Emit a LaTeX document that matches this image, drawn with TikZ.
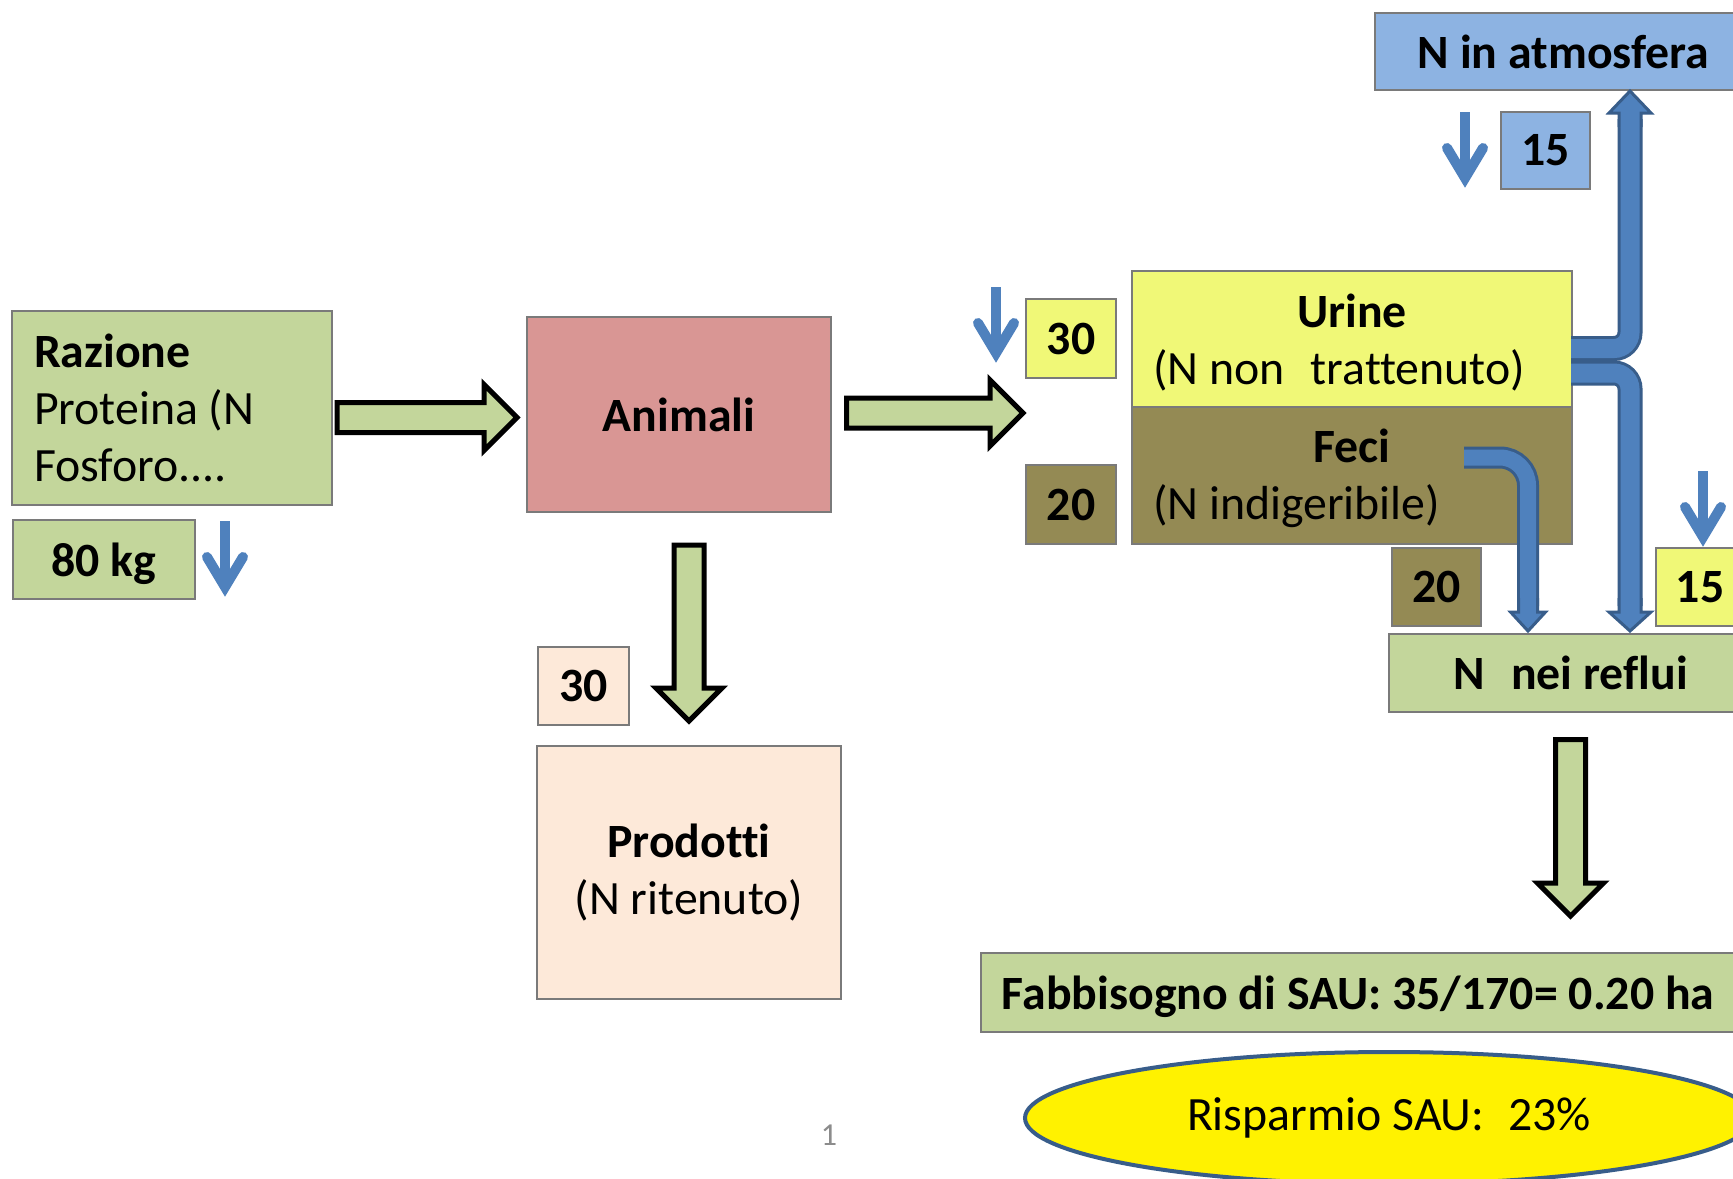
\documentclass[tikz,border=0pt]{standalone}
\usepackage{fontspec}
\setmainfont{Carlito}[Ligatures=NoCommon]
\usetikzlibrary{calc,shapes.geometric}
\definecolor{cGreen}{HTML}{C3D69B}
\definecolor{cPink}{HTML}{D99694}
\definecolor{cPeach}{HTML}{FDE9D9}
\definecolor{cYel}{HTML}{F0F877}
\definecolor{cOlive}{HTML}{948A54}
\definecolor{cSky}{HTML}{8DB3E2}
\definecolor{cBlue}{HTML}{4F81BD}
\definecolor{cBlueDark}{HTML}{385D8A}
\definecolor{cBorder}{HTML}{7A7A7A}
\definecolor{cPage}{HTML}{8C8C8C}
\newcommand\bluehead[5]{\filldraw[shift={#1}, rotate=#2, fill=cBlue, draw=cBlueDark, line width=1.5pt, line join=miter] (-#3,-14) -- (-#3,0) -- (-#4,0) -- (0,#5) -- (#4,0) -- (#3,0) -- (#3,-14);}
\newcommand\fatH[2]{\draw[fatarrow] let \p1=(#1), \p2=(#2) in
 (\x1,\y1+7.5pt) -- (\x2-16.5pt,\y1+7.5pt) -- (\x2-16.5pt,\y1+16.5pt) -- (\x2,\y1) -- (\x2-16.5pt,\y1-16.5pt) -- (\x2-16.5pt,\y1-7.5pt) -- (\x1,\y1-7.5pt) -- cycle;}
\newcommand\fatV[2]{\draw[fatarrow] let \p1=(#1), \p2=(#2) in
 (\x1+7.5pt,\y1) -- (\x1+7.5pt,\y2+16.5pt) -- (\x1+16.5pt,\y2+16.5pt) -- (\x1,\y2) -- (\x1-16.5pt,\y2+16.5pt) -- (\x1-7.5pt,\y2+16.5pt) -- (\x1-7.5pt,\y1) -- cycle;}
\newcommand\thinarrow[1]{%
 \draw[cBlue, line width=5pt] #1 -- ++(0,60);
 \draw[cBlue, line width=5pt, line cap=round, line join=miter] #1 ++(-18,36) -- ++(18,30) -- ++(18,-30);}
\begin{document}
\begin{tikzpicture}[x=0.5pt,y=-0.5pt,
  font=\fontsize{23.9pt}{28.5pt}\selectfont,
  box/.style={draw=cBorder, line width=1pt, inner sep=0pt, rectangle},
  wh/.style 2 args={minimum width=#1*0.5pt, minimum height=#2*0.5pt},
  lab/.style={box, font=\fontsize{23.9pt}{28.5pt}\selectfont\bfseries},
  fatarrow/.style={fill=cGreen, draw=black, line width=2.5pt, line join=miter}]
\clip (0,0) rectangle (1733,1178);
\fill[white] (0,0) rectangle (1733,1178);

% main boxes
\node[box, wh={320}{194}, fill=cGreen, text width=138pt, align=flush left] (raz) at (172,408) {\textbf{Razione}\\Proteina (N\\Fosforo....};
\node[lab, wh={304}{195}, fill=cPink] (ani) at (679,414.5) {Animali};
\node[box, wh={304}{253}, fill=cPeach, align=flush center] (prod) at (689,872.5) {\textbf{Prodotti}\\(N ritenuto)};
\node[box, wh={440}{136}, fill=cYel, text width=199pt, align=flush left] (urine) at (1352,339) {\makebox[199pt]{\rule{0pt}{20pt}\bfseries Urine}\\(N non\hspace{0.55em}trattenuto)};
\node[box, wh={440}{137}, fill=cOlive, text width=199pt, align=flush left] (feci) at (1352,475.5) {\makebox[199pt]{\rule{0pt}{20pt}\bfseries Feci}\\(N indigeribile)};
\node[lab, wh={377}{77}, fill=cSky] (atm) at (1563.5,51.5) {N in atmosfera};
\node[lab, wh={363}{78}, fill=cGreen] (reflui) at (1570.5,673) {N\hspace{0.55em}nei reflui};
\node[lab, wh={754}{79}, fill=cGreen, text depth=0pt] (fab) at (1358,992.5) {Fabbisogno di SAU: 35/170= 0.20 ha};
\node[ellipse, draw=cBlueDark, line width=2pt, fill=yellow, minimum width=364pt, minimum height=66pt] (risp) at (1389,1118) {Risparmio SAU:\hspace{0.5em}23\%};

% labels
\node[lab, wh={182}{79}, fill=cGreen, text depth=0pt] (l80) at (104,559.5) {80 kg};
\node[lab, wh={91}{78}, fill=cPeach] (lP30) at (583.5,686) {30};
\node[lab, wh={90}{79}, fill=cYel] (lU30) at (1071,338.5) {30};
\node[lab, wh={90}{79}, fill=cOlive] (lF20) at (1071,504.5) {20};
\node[lab, wh={89}{78}, fill=cOlive] (lR20) at (1436.5,587) {20};
\node[lab, wh={88}{78}, fill=cYel] (lR15) at (1700,587) {15};
\node[lab, wh={89}{77}, fill=cSky] (lA15) at (1545.5,150.5) {15};

% green fat arrows
\fatH{$(raz.east |- ani.west)+(4,3)$}{$(ani.west)+(-9,3)$}
\fatH{$(ani.east)+(14.5,-1.5)$}{$(lU30.west |- ani.east)+(-2,-1.5)$}
\fatV{$(ani.south -| prod.north)+(0,32)$}{$(prod.north)+(0,-24)$}
\fatV{$(reflui.south)+(0,26.5)$}{$(fab.north -| reflui.south)+(0,-36)$}

% blue pipes
\coordinate (vx) at (1630,0);
\coordinate (fx) at (1528,0);
\coordinate (u1) at ($(urine.east)+(-2,9.5)$);
\coordinate (u2) at ($(urine.east)+(-2,34)$);
\coordinate (f1) at ($(feci.east)+(-109,-18)$);
\coordinate (upB) at ($(atm.south -| vx)+(0,22)$);
\coordinate (dnB) at ($(reflui.north -| vx)+(0,-21)$);
\coordinate (fdB) at ($(reflui.north -| fx)+(0,-21)$);
\foreach \w/\c in {12.5pt/cBlueDark, 9.5pt/cBlue}{
  \draw[\c, line width=\w, rounded corners=8pt] (u1) -- (u1 -| vx) -- ($(upB)+(0,6)$);
  \draw[\c, line width=\w, rounded corners=8pt] (u2) -- (u2 -| vx) -- ($(dnB)+(0,-6)$);
}
\foreach \w/\c in {11pt/cBlueDark, 8pt/cBlue}{
  \draw[\c, line width=\w, rounded corners=14pt] (f1) -- (f1 -| fx) -- ($(fdB)+(0,-6)$);
}
\bluehead{(upB)}{180}{11}{21}{22}
\bluehead{(dnB)}{0}{11}{21}{19}
\bluehead{(fdB)}{0}{9.5}{17.5}{19}

% thin blue arrows
\thinarrow{(225,521)}
\thinarrow{(996,287)}
\thinarrow{(1465,112)}
\thinarrow{(1703,471)}

% page number
\node[text=cPage, font=\fontsize{16pt}{19pt}\selectfont] (pg) at (829,1135) {1};
\end{tikzpicture}
\end{document}
